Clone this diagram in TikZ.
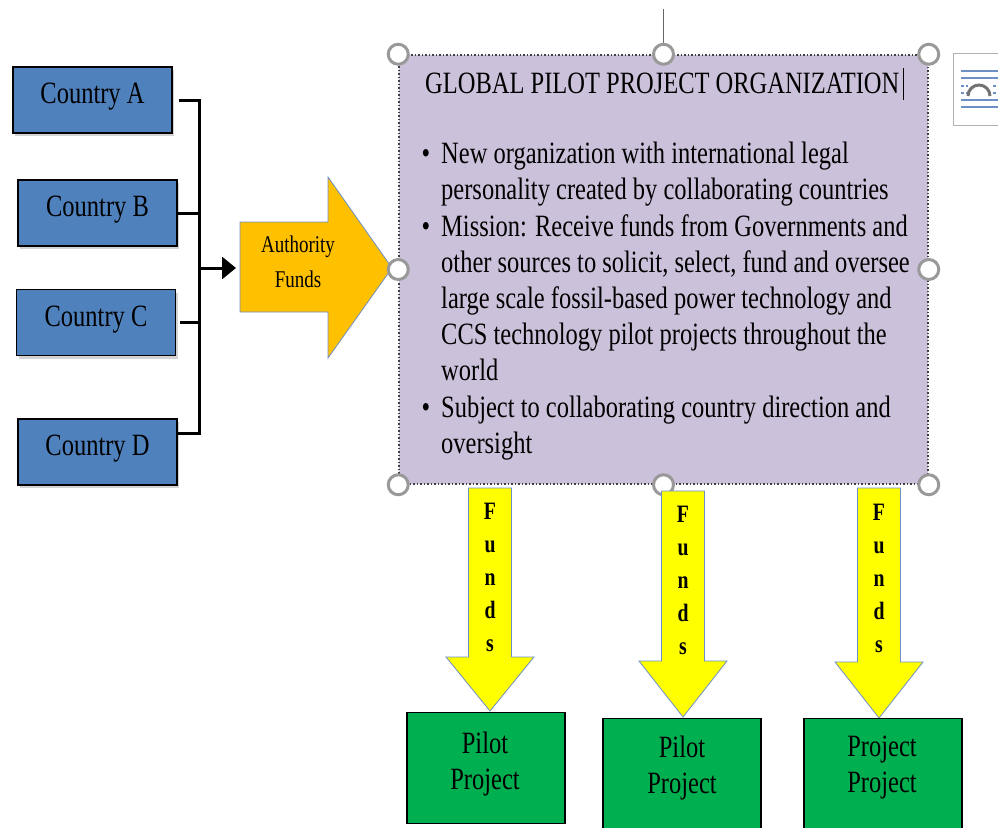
\documentclass[tikz,border=0pt]{standalone}
\usepackage{fontspec}
\setmainfont{Liberation Serif}[FakeStretch=0.79]
\usetikzlibrary{arrows.meta,shadows}

\definecolor{ctyblue}{HTML}{4F81BD}
\definecolor{authorange}{HTML}{FFC000}
\definecolor{orglilac}{HTML}{CCC1DA}
\definecolor{fundyellow}{HTML}{FFFF00}
\definecolor{pilotgreen}{HTML}{00B050}
\definecolor{edgeblue}{HTML}{6D8FC6}

\newcommand\bigfont{\fontsize{31}{36.2}\selectfont}
\newcommand\authfont{\fontsize{24}{35}\selectfont}
\newcommand\fundsfont{\fontsize{25}{33}\selectfont\bfseries}

\begin{document}
\begin{tikzpicture}[x=1pt, y=-1pt,
		cty/.style={draw=black, line width=1.5pt, fill=ctyblue, minimum width=159pt, minimum height=66pt, inner sep=0pt, font=\bigfont, text height=21pt, text depth=14pt, drop shadow={shadow xshift=2pt, shadow yshift=-3pt, opacity=0.35}},
		link/.style={line width=3pt},
		fatarrow/.style={draw=edgeblue, line width=0.8pt},
		pilot/.style={draw=black, line width=1.5pt, fill=pilotgreen, minimum width=158pt, minimum height=111pt},
		handle/.style={draw=black!40, line width=3pt, fill=white}]
				\useasboundingbox (0,0) rectangle (998,827);
				
				\node[cty] (ctyA) at (92.5,100) {Country A};
				\node[cty] (ctyB) at (97.5,213) {Country B};
				\node[cty] (ctyC) at (96,322.5) {Country C};
				\node[cty] (ctyD) at (97.5,452) {Country D};
				
				\coordinate (busTop) at (199,100);
				\coordinate (busBot) at (199,433);
				\coordinate (busMid) at (199,268);
				\coordinate (authIn) at (236,268);
				\draw[link] ([xshift=6pt]ctyA.east) -- (ctyA.east -| busTop) -- (busBot) -- (ctyD.east |- busBot);
				\draw[link] (ctyB.east) -- (ctyB.east -| busTop);
				\draw[link] ([xshift=4pt]ctyC.east) -- (ctyC.east -| busTop);
				\draw[link, -{Triangle[length=14pt, width=22pt]}] (busMid) -- (authIn);
				
				\draw[fatarrow, fill=authorange] (240,222) -- (328,222) -- (328,177) -- (392,268) -- (328,358) -- (328,312) -- (240,312) -- cycle;
				\node[font=\authfont, align=center] (auth) at (298,262) {Authority\\Funds};
				
				\node[draw=black!75, dotted, line width=1.5pt, fill=orglilac, minimum width=529pt, minimum height=429pt] (org) at (663.5,269.5) {};
				\draw[black!60, line width=1pt] (org.north) -- ++(0,-45);
				\foreach \h in {north west,north,north east,west,east,south west,south,south east}
					\draw[handle] (org.\h) circle (10);
				
				\node[anchor=base west, inner sep=0pt, font=\bigfont] (orgTitle) at (425,93) {GLOBAL PILOT PROJECT ORGANIZATION};
				\draw[line width=1pt] (903,68) -- (903,100);
				\node[anchor=north west, inner sep=0pt, align=left, font=\bigfont] (orgList) at (441,142) {\llap{\textbullet\hspace{11pt}}New organization with international legal\\
					personality created by collaborating countries\\
					\llap{\textbullet\hspace{11pt}}Mission: Receive funds from Governments and\\
					other sources to solicit, select, fund and oversee\\
					large scale fossil-based power technology and\\
					CCS technology pilot projects throughout the\\
					world\\
					\llap{\textbullet\hspace{11pt}}Subject to collaborating country direction and\\
					oversight};
				
				\draw[black!30, line width=1pt, fill=white] (953,53) rectangle (1010,125);
				\draw[edgeblue, line width=1.5pt] (961,71) -- (1005,71) (961,78) -- (1005,78) (961,100) -- (1005,100) (961,107) -- (1005,107);
				\draw[edgeblue, line width=1.5pt, dash pattern=on 3pt off 2pt] (961,86) -- (968,86) (961,93) -- (968,93) (993,86) -- (1005,86) (993,93) -- (1005,93);
				\draw[black!55, line width=3pt] (968,96) arc[start angle=180, end angle=360, radius=11];
				
				\foreach \cx/\tp/\hy/\ty/\ft/\n in {490/488/657/711/503/1, 683/491/661/717/506/2, 879/488/662/718/504/3}{
					\draw[fatarrow, fill=fundyellow] (\cx-21.5,\tp) -- (\cx+21.5,\tp) -- (\cx+21.5,\hy) -- (\cx+44,\hy) -- (\cx,\ty) -- (\cx-44,\hy) -- (\cx-21.5,\hy) -- cycle;
					\node[anchor=north, inner sep=0pt, font=\fundsfont, align=center] (funds\n) at (\cx,\ft) {F\\u\\n\\d\\s};
				}
				
				\node[pilot] (pilot1) at (486,768) {};
				\node[pilot] (pilot2) at (682,774) {};
				\node[pilot] (pilot3) at (883,774) {};
				\node[anchor=north, inner sep=0pt, font=\bigfont, align=center] (pilot1txt) at (485,732) {Pilot\\Project};
				\node[anchor=north, inner sep=0pt, font=\bigfont, align=center] (pilot2txt) at (682,736) {Pilot\\Project};
				\node[anchor=north, inner sep=0pt, font=\bigfont, align=center] (pilot3txt) at (882,736) {Project\\Project};
			\end{tikzpicture}
\end{document}
